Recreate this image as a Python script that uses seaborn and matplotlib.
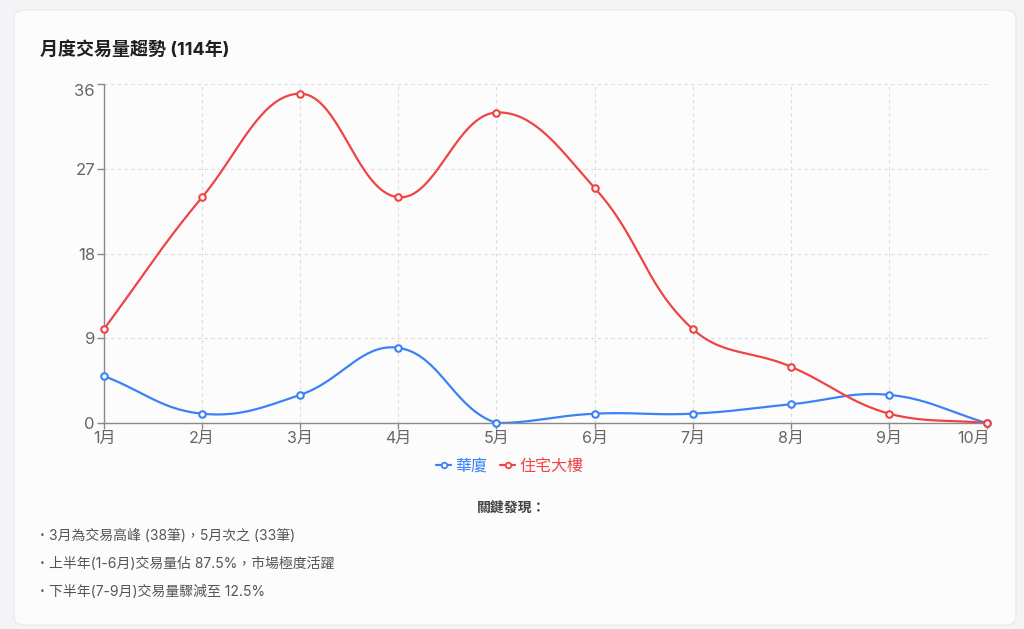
#monthly transaction trend chart (114年)

import numpy as np
import pandas as pd
import seaborn as sns
import matplotlib.pyplot as plt
from matplotlib.patches import FancyBboxPatch
from matplotlib.lines import Line2D
from matplotlib.transforms import ScaledTranslation

#chart data
months = ['1月', '2月', '3月', '4月', '5月', '6月', '7月', '8月', '9月', '10月']
huaxia = [5, 1, 3, 8, 0, 1, 1, 2, 3, 0]
zhuzhai = [10, 24, 35, 24, 33, 25, 10, 6, 1, 0]
series_names = ['華廈', '住宅大樓']
series_colors = ['#3b82f6', '#ef4444']
y_ticks = [0, 9, 18, 27, 36]

title = '月度交易量趨勢 (114年)'
notes_title = '關鍵發現：'
notes = [
    '3月為交易高峰 (38筆)，5月次之 (33筆)',
    '上半年(1-6月)交易量佔 87.5%，市場極度活躍',
    '下半年(7-9月)交易量驟減至 12.5%',
]

#pixel scale of the plot area, used for the curve tension
px_per_x = 98.1
px_per_y = 9.41


#smooth curve like chart.js (tension 0.4, control points capped to area)
def smooth_curve(ys, tension=0.4, ymin=0, ymax=36, steps=40):
    xs = np.arange(len(ys), dtype=float)
    ys = np.asarray(ys, dtype=float)
    px = xs * px_per_x
    py = ys * px_per_y
    n = len(xs)
    cp_prev = np.zeros((n, 2))
    cp_next = np.zeros((n, 2))
    for i in range(n):
        a = max(i - 1, 0)
        b = min(i + 1, n - 1)
        d01 = np.hypot(px[i] - px[a], py[i] - py[a])
        d12 = np.hypot(px[b] - px[i], py[b] - py[i])
        total = d01 + d12
        s01 = d01 / total if total > 0 else 0
        s12 = d12 / total if total > 0 else 0
        fa = tension * s01
        fb = tension * s12
        cp_prev[i] = [px[i] - fa * (px[b] - px[a]), py[i] - fa * (py[b] - py[a])]
        cp_next[i] = [px[i] + fb * (px[b] - px[a]), py[i] + fb * (py[b] - py[a])]
    #cap control points to the chart area
    for cp in (cp_prev, cp_next):
        cp[:, 0] = np.clip(cp[:, 0], 0, (n - 1) * px_per_x)
        cp[:, 1] = np.clip(cp[:, 1], ymin * px_per_y, ymax * px_per_y)
    out_x = []
    out_y = []
    t = np.linspace(0, 1, steps)
    for i in range(n - 1):
        p0 = np.array([px[i], py[i]])
        p1 = cp_next[i]
        p2 = cp_prev[i + 1]
        p3 = np.array([px[i + 1], py[i + 1]])
        pts = (np.outer((1 - t) ** 3, p0) + np.outer(3 * (1 - t) ** 2 * t, p1)
               + np.outer(3 * (1 - t) * t ** 2, p2) + np.outer(t ** 3, p3))
        out_x.extend(pts[:, 0] / px_per_x)
        out_y.extend(pts[:, 1] / px_per_y)
    return out_x, out_y


sns.set_theme(style='white')
plt.rcParams['font.family'] = ['Inter', 'Noto Sans CJK TC', 'DejaVu Sans']

fig = plt.figure(figsize=(10.24, 6.29), dpi=100, facecolor='#f3f4f6')

#white card behind everything
card = FancyBboxPatch((14 / 1024, 1 - 625 / 629), 1002 / 1024, 615 / 629,
                      boxstyle='round,pad=0,rounding_size=0.012',
                      transform=fig.transFigure, facecolor='#fcfcfd',
                      edgecolor='#e8e9ec', linewidth=0.8, zorder=-10)
fig.patches.append(card)

ax = fig.add_axes([104 / 1024, 1 - 423.1 / 629, 883 / 1024, 338.8 / 629])
ax.set_facecolor('none')
ax.set_zorder(2)

#lines and points
for values, name, color in zip([huaxia, zhuzhai], series_names, series_colors):
    cx, cy = smooth_curve(values)
    curve_df = pd.DataFrame({'x': cx, 'y': cy})
    sns.lineplot(data=curve_df, x='x', y='y', sort=False, estimator=None,
                 color=color, linewidth=1.6, ax=ax, zorder=3)
    point_df = pd.DataFrame({'x': np.arange(len(values)), 'y': values})
    sns.scatterplot(data=point_df, x='x', y='y', s=22, color='white',
                    edgecolor=color, linewidth=1.5, ax=ax, zorder=4, clip_on=False)

ax.set_xlim(0, len(months) - 1)
ax.set_ylim(0, 36)
ax.set_xticks(range(len(months)))
ax.set_xticklabels(months)
ax.set_yticks(y_ticks)
ax.set_xlabel('')
ax.set_ylabel('')

#grid and axes
ax.grid(True, color='#dcdcdc', linestyle=(0, (3, 3)), linewidth=0.8)
ax.set_axisbelow(True)
for side in ['top', 'right']:
    ax.spines[side].set_visible(False)
for side in ['left', 'bottom']:
    ax.spines[side].set_color('#8a8a8a')
    ax.spines[side].set_linewidth(1)
ax.tick_params(axis='y', length=5, width=1, color='#8a8a8a', pad=1.5,
               labelsize=12, labelcolor='#666666', left=True)
ax.tick_params(axis='x', length=4, width=1, color='#8a8a8a', pad=1.5,
               labelsize=11.5, labelcolor='#666666', bottom=True)

#keep the top y label and last x label inside the plot area
top_label = ax.get_yticklabels()[-1]
top_label.set_transform(top_label.get_transform() + ScaledTranslation(0, -6 / 100, fig.dpi_scale_trans))
last_label = ax.get_xticklabels()[-1]
last_label.set_transform(last_label.get_transform() + ScaledTranslation(-13 / 100, 0, fig.dpi_scale_trans))

#legend
handles = [Line2D([0], [0], color=c, linewidth=1.6, marker='o', markersize=4,
                  markerfacecolor='white', markeredgewidth=1.3)
           for c in series_colors]
fig.legend(handles, series_names, loc='center', bbox_to_anchor=(510 / 1024, 1 - 466 / 629),
           ncol=2, frameon=False, fontsize=11.5, handlelength=0.9, handletextpad=0.3,
           columnspacing=0.8, labelcolor=series_colors)

#title
fig.text(40 / 1024, 1 - 50 / 629, title, fontsize=13, fontweight='bold',
         color='#1f1f1f', va='center', ha='left')

#key findings
fig.text(512 / 1024, 1 - 508 / 629, notes_title, fontsize=10, fontweight='bold',
         color='#444444', va='center', ha='center')
for i, note in enumerate(notes):
    y = 1 - (536 + 28 * i) / 629
    fig.text(42 / 1024, y, '•', fontsize=6, color='#555555', va='center', ha='center',
             family='DejaVu Sans')
    fig.text(49 / 1024, y, note, fontsize=10, color='#555555', va='center', ha='left')

plt.savefig('out.png', dpi=100, facecolor=fig.get_facecolor())
